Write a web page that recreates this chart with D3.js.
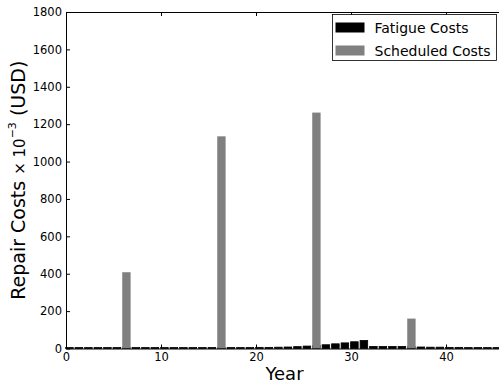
<!DOCTYPE html>
<html>
<head>
<meta charset="utf-8">
<script src="https://cdn.jsdelivr.net/npm/d3@7"></script>
<style>
  body { margin: 0; background: #fff; }
  svg { display: block; font-family: "DejaVu Sans", sans-serif; }
</style>
</head>
<body>
<div id="chart"></div>
<script>
// years 0..45
const years = d3.range(0, 46);
const fatigueCosts = [
  5, 5, 5, 5, 5, 5, 5, 5, 5, 5,
  5, 5, 5, 5, 5, 5, 5, 5, 5, 5,
  6, 6, 7, 8, 10, 13, 16, 20, 25, 30,
  36, 43, 11, 11, 11, 11, 10, 8, 7, 7,
  6, 6, 5, 5, 5, 5
];
const scheduledYears = [6, 16, 26, 36];
const scheduledCosts = [408, 1135, 1262, 160];
const xTicks = [0, 10, 20, 30, 40];
const yTicks = [0, 200, 400, 600, 800, 1000, 1200, 1400, 1600, 1800];
const legendLabels = ["Fatigue Costs", "Scheduled Costs"];
const legendColors = ["#000000", "#808080"];

const width = 499, height = 385;
const margin = { top: 12, right: 0, bottom: 36, left: 66 };
const plotRight = 503; // the right spine falls just outside the window

const svg = d3.select("#chart").append("svg")
  .attr("width", width)
  .attr("height", height);

const x = d3.scaleLinear().domain([0, 46]).range([margin.left, plotRight]);
const y = d3.scaleLinear().domain([0, 1800]).range([height - margin.bottom - 0.5, margin.top]);

const barW = x(0.88) - x(0);

// fatigue bars (black edge, so tiny ones still show)
svg.append("g")
  .selectAll("rect")
  .data(years)
  .enter()
  .append("rect")
  .attr("x", d => x(d - 0.04))
  .attr("y", d => y(fatigueCosts[d]))
  .attr("width", barW - 0.8)
  .attr("height", d => y(0) - y(fatigueCosts[d]))
  .attr("fill", legendColors[0])
  .attr("stroke", "#000")
  .attr("stroke-width", 0.8);

// scheduled bars
svg.append("g")
  .selectAll("rect")
  .data(scheduledYears)
  .enter()
  .append("rect")
  .attr("x", d => x(d - 0.08))
  .attr("y", (d, i) => y(scheduledCosts[i]))
  .attr("width", barW)
  .attr("height", (d, i) => y(0) - y(scheduledCosts[i]))
  .attr("fill", legendColors[1]);

// axes, ticks pointing inward
const fmt = d3.format("d");
svg.append("g")
  .attr("transform", `translate(0,${y(0)})`)
  .call(d3.axisBottom(x).tickValues(xTicks).tickFormat(fmt).tickSize(-4).tickSizeOuter(0).tickPadding(4));
svg.append("g")
  .attr("transform", `translate(${x(0)},0)`)
  .call(d3.axisLeft(y).tickValues(yTicks).tickFormat(fmt).tickSize(-4).tickSizeOuter(0).tickPadding(4));
svg.append("g")
  .attr("transform", `translate(0,${y(1800)})`)
  .call(d3.axisTop(x).tickValues(xTicks).tickSize(-4).tickSizeOuter(0).tickFormat(""));
svg.append("g")
  .attr("transform", `translate(${plotRight},0)`)
  .call(d3.axisRight(y).tickValues(yTicks).tickSize(-4).tickSizeOuter(0).tickFormat(""));

svg.selectAll("g").attr("font-family", null);
svg.selectAll(".tick text")
  .attr("font-size", "11.5px")
  .attr("fill", "#000");
svg.selectAll(".domain, .tick line").attr("stroke", "#000");

// axis labels
svg.append("text")
  .attr("x", (x(0) + plotRight) / 2)
  .attr("y", 380)
  .attr("text-anchor", "middle")
  .attr("font-size", "18px")
  .text("Year");

const yl = svg.append("text")
  .attr("transform", `translate(25,${(y(0) + y(1800)) / 2}) rotate(-90)`)
  .attr("text-anchor", "middle")
  .attr("font-size", "19px");
yl.append("tspan").text("Repair Costs ");
yl.append("tspan").attr("font-size", "15px").text("\u00d7 10");
yl.append("tspan").attr("font-size", "11px").attr("dy", "-0.8em").text("\u22123");
yl.append("tspan").attr("dy", "0.46em").text("  (USD)");

// legend
const legend = svg.append("g").attr("transform", "translate(332.5,14.5)");
legend.append("rect")
  .attr("width", 164)
  .attr("height", 46)
  .attr("fill", "#fff")
  .attr("stroke", "#000")
  .attr("stroke-width", 0.8);
legend.selectAll(".sw")
  .data(legendLabels)
  .enter()
  .append("rect")
  .attr("x", 3)
  .attr("y", (d, i) => 8 + i * 23)
  .attr("width", 29)
  .attr("height", 10)
  .attr("fill", (d, i) => legendColors[i]);
legend.selectAll(".lt")
  .data(legendLabels)
  .enter()
  .append("text")
  .attr("x", 42)
  .attr("y", (d, i) => 18 + i * 23)
  .attr("font-size", "14px")
  .text(d => d);
</script>
</body>
</html>
